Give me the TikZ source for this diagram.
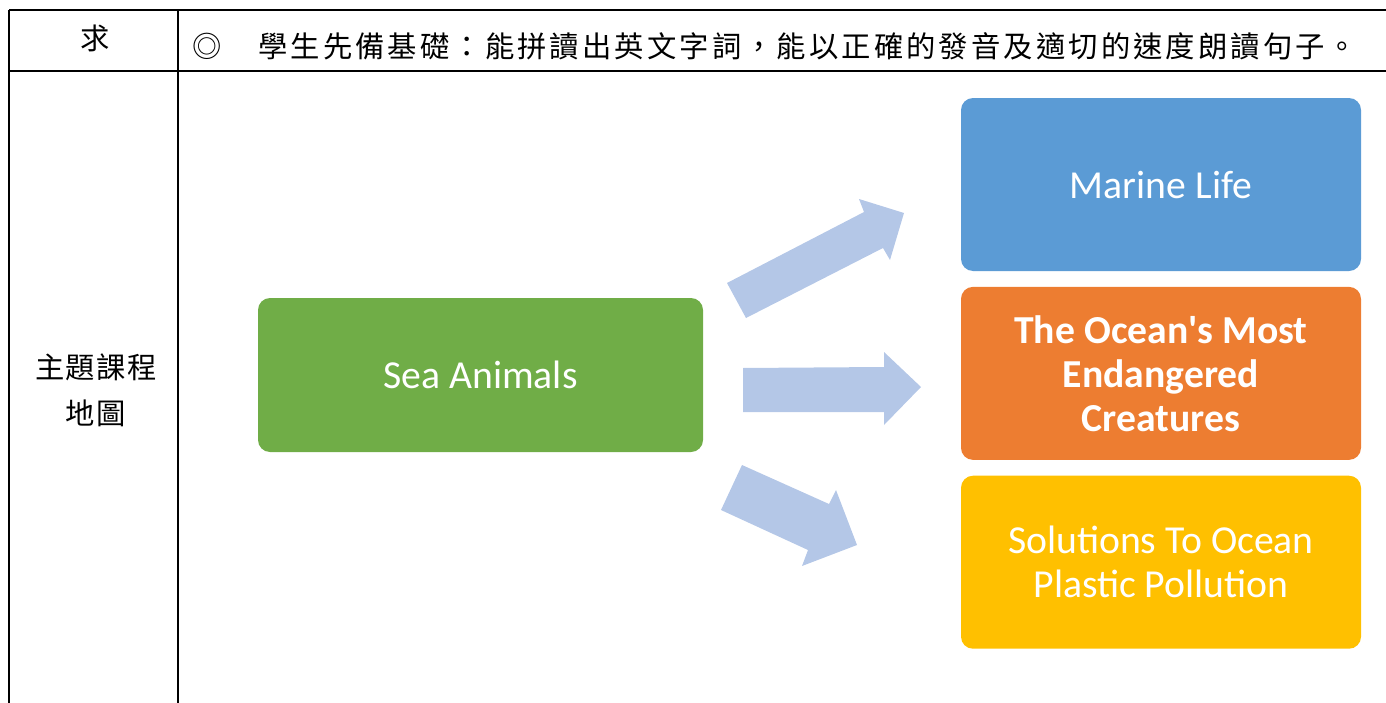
\documentclass[tikz,border=0pt]{standalone}
\usepackage{fontspec}
\setmainfont{Carlito}
\newfontfamily\cjk[LetterSpace=10.5]{Noto Sans CJK TC}
\newfontfamily\cjknarrow[LetterSpace=5]{Noto Sans CJK TC}
\usepackage{xcolor}
\usetikzlibrary{positioning}

\definecolor{seagreen}{RGB}{112,173,71}
\definecolor{lifeblue}{RGB}{91,155,213}
\definecolor{dangerorange}{RGB}{237,125,49}
\definecolor{plasticyellow}{RGB}{255,192,0}
\definecolor{arrowblue}{RGB}{180,199,231}

\begin{document}
\begin{tikzpicture}[
    x=0.75pt, y=-0.75pt,
    node distance=11.5pt,
    box/.style={rectangle, rounded corners=9pt, text=white, align=center, minimum width=300pt, minimum height=129.75pt, font=\fontsize{29.75}{33}\selectfont},
    cell/.style={inner sep=0pt, align=center, font=\cjk\fontsize{22}{34.5}\selectfont},
    blockarrow/.style={fill=arrowblue},
    rule/.style={line width=1.5pt}
]
\useasboundingbox (0,0) rectangle (1386,703);

% Table
\draw[rule] (9,10) -- (1386,10);
\draw[rule] (9,71) -- (1386,71);
\draw[rule] (9,10) -- (9,703);
\draw[rule] (178,10) -- (178,703);

\node[cell] (req) at (95,38) {求};
\node[cell, anchor=west] (mark) at (192,46) {◎};
\node[cell, anchor=west] (prereq) at (258,46) {學生先備基礎：能拼讀出英文字詞，能以正確的發音及適切的速度朗讀句子。};
\node[cell, font=\cjknarrow\fontsize{22}{34.5}\selectfont] (topic) at (96,390) {主題課程\\地圖};

% Boxes
\node[box, fill=seagreen, minimum width=333.75pt, minimum height=115.5pt] (sea) at (480.5,375) {Sea Animals};

\node[box, fill=lifeblue] (marine) at (1161,184.5) {Marine Life};

\node[box, fill=dangerorange, below=of marine, font=\bfseries\fontsize{29.75}{33}\selectfont] (ocean) {
    The Ocean\textquotesingle s Most\\
    Endangered\\
    Creatures
};

\node[box, fill=plasticyellow, below=of ocean] (plastic) {
    Solutions To Ocean\\
    Plastic Pollution
};

% Arrows
\fill[blockarrow] (746,318) -- (727,283) -- (864,212) -- (859,199) -- (904,213) -- (890,260) -- (883,248) -- cycle;
\fill[blockarrow] (743,368) -- (884,367) -- (884,352) -- (921,387) -- (884,425) -- (884,412) -- (743,412) -- cycle;
\fill[blockarrow] (742,465) -- (829,504) -- (836,490) -- (857,545) -- (802,566) -- (808,550) -- (721,510) -- cycle;

\end{tikzpicture}
\end{document}
